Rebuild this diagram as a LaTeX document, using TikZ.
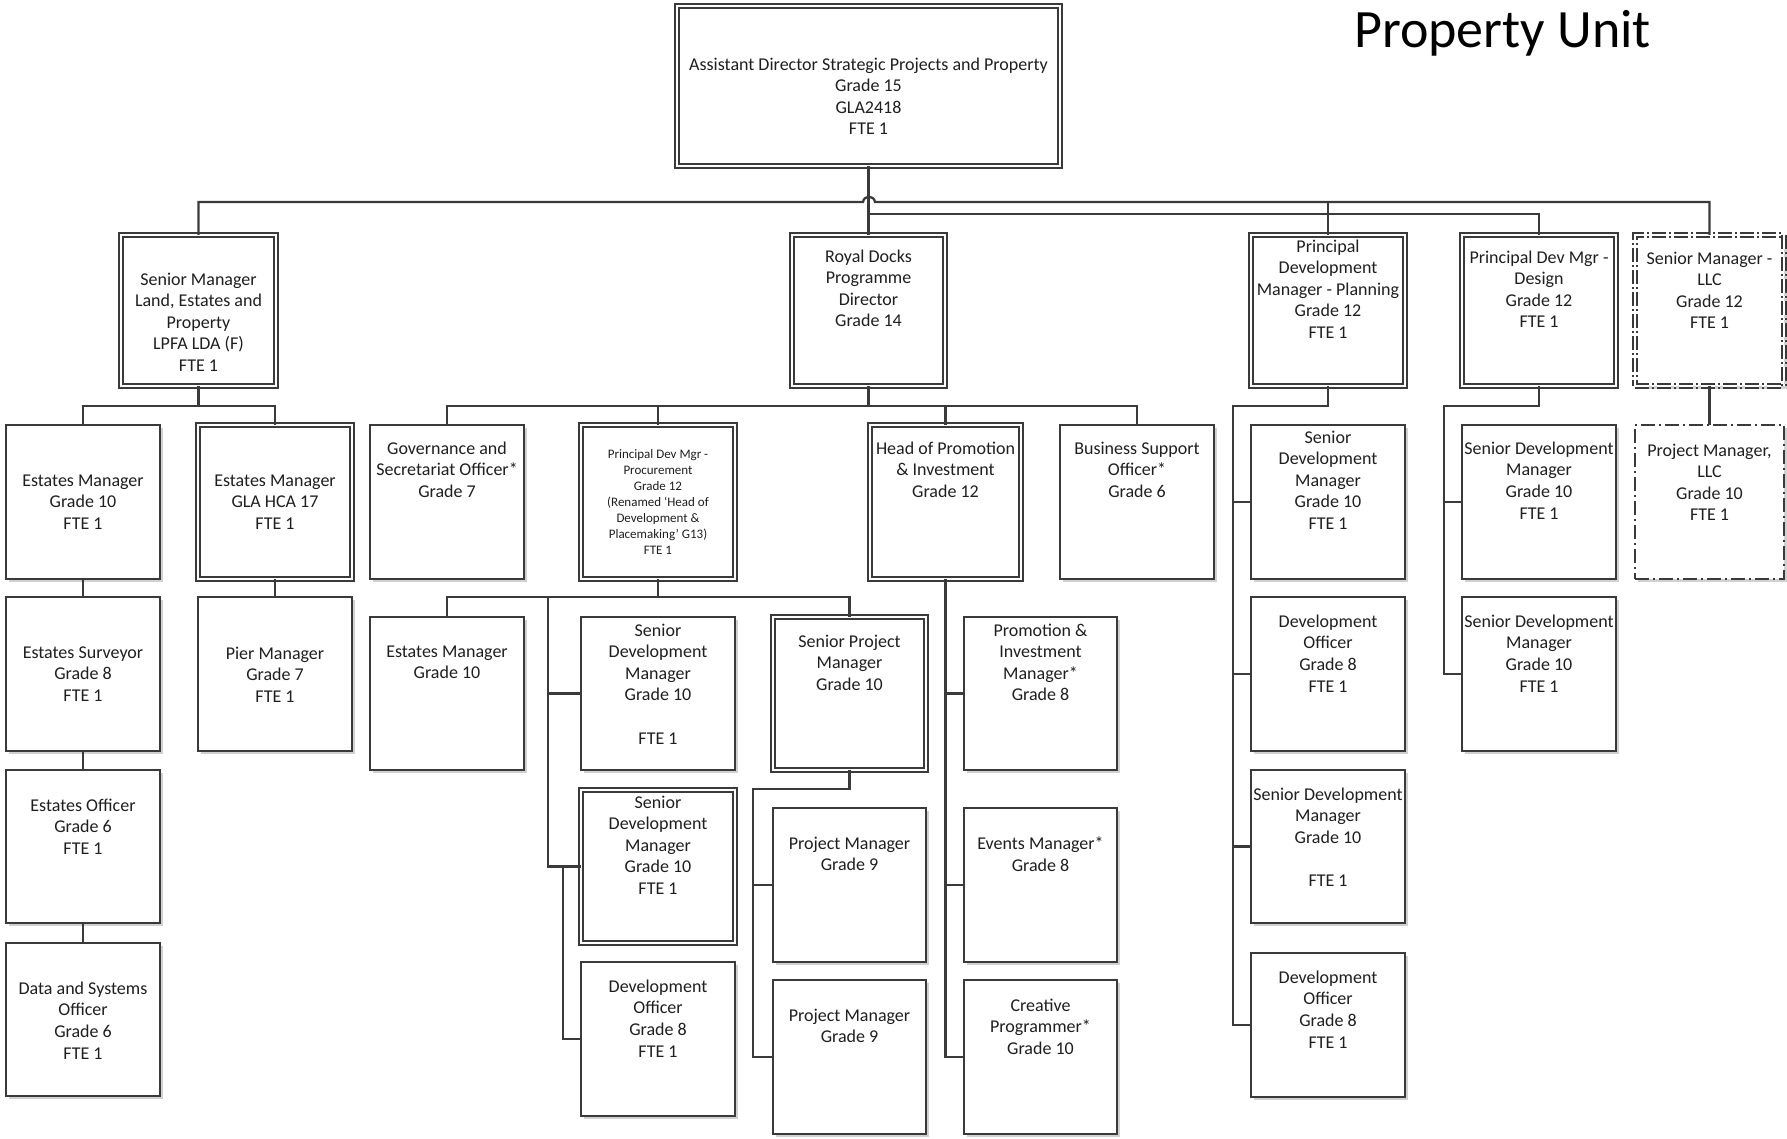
\documentclass[tikz,border=0pt]{standalone}
\usepackage{fontspec}
\setmainfont{Carlito}
\usetikzlibrary{shadows}
\definecolor{lc}{HTML}{3A3A3A}
\tikzset{
  box/.style={draw=lc, line width=1.8pt, fill=white, inner sep=0pt, outer sep=0pt,
    drop shadow={shadow xshift=2.5pt, shadow yshift=-2.5pt, fill=black!18, opacity=1}},
  dbox/.style={box, line width=1.4pt, double=white, double distance=2.6pt},
  tbox/.style={box, line width=2.1pt, double=white, double distance=2.4pt},
  ddbox/.style={dbox, dash pattern=on 14pt off 3pt on 2pt off 3pt},
  dabox/.style={box, line width=1.4pt, dash pattern=on 14pt off 4pt on 2pt off 4pt},
  conn/.style={draw=lc, line width=2.3pt},
  txt/.style={align=center, inner sep=0pt, text=black!88, font=\fontsize{18}{21.6}\selectfont,
    execute at begin node={\strut}},
  smalltxt/.style={txt, font=\fontsize{13}{16}\selectfont}
}
% style, name, x1, y1, x2, y2, first-line centre y, text
\newcommand\obox[8]{%
  \node[#1, minimum width={#5-#3}, minimum height={#6-#4}] (#2) at ({(#3+#5)/2},{(#4+#6)/2}) {};
  \node[txt, anchor=north] (#2-t) at ({(#3+#5)/2},{#7-6.5}) {#8};
}
\begin{document}
\begin{tikzpicture}[x=1pt,y=-1pt]
\useasboundingbox (0,0) rectangle (1787,1139);

\node[font=\fontsize{54}{60}\selectfont, anchor=base west, inner sep=0pt, text=black] (title) at (1354,48) {Property Unit};

% level 0 and 1
\obox{dbox}{top}{677}{6}{1060}{166}{64}{Assistant Director Strategic Projects and Property\\Grade 15\\GLA2418\\FTE 1}
\obox{tbox}{land}{121}{235}{276}{386}{279}{Senior Manager\\Land, Estates and\\Property\\LPFA LDA (F)\\FTE 1}
\obox{dbox}{rd}{792}{235}{945}{386}{256}{Royal Docks\\Programme\\Director\\Grade 14}
\obox{dbox}{plan}{1251}{235}{1405}{386}{246}{Principal\\Development\\Manager - Planning\\Grade 12\\FTE 1}
\obox{dbox}{design}{1462}{235}{1616}{386}{257}{Principal Dev Mgr -\\Design\\Grade 12\\FTE 1}
\obox{ddbox}{llc}{1635}{235}{1784}{386}{258}{Senior Manager -\\LLC\\Grade 12\\FTE 1}

% level 2
\obox{box}{em1}{6}{425}{160}{579}{481}{Estates Manager\\Grade 10\\FTE 1}
\obox{dbox}{gla}{198}{425}{352}{579}{481}{Estates Manager\\GLA HCA 17\\FTE 1}
\obox{box}{gov}{370}{425}{524}{579}{448}{Governance and\\Secretariat Officer*\\Grade 7}
\node[dbox, minimum width=154, minimum height=154] (proc) at (658,502) {};
\node[smalltxt, anchor=north] (proc-t) at (658,449.5) {Principal Dev Mgr -\\Procurement\\Grade 12\\(Renamed ‘Head of\\Development \&\\Placemaking’ G13)\\FTE 1};
\obox{dbox}{hop}{870}{425}{1021}{579}{448}{Head of Promotion\\\& Investment\\Grade 12}
\obox{box}{bso}{1060}{425}{1214}{579}{448}{Business Support\\Officer*\\Grade 6}
\obox{box}{psdm1}{1251}{425}{1405}{579}{437}{Senior\\Development\\Manager\\Grade 10\\FTE 1}
\obox{box}{dsdm1}{1462}{425}{1616}{579}{448}{Senior Development\\Manager\\Grade 10\\FTE 1}
\obox{dabox}{pmllc}{1635}{425}{1784}{579}{450}{Project Manager,\\LLC\\Grade 10\\FTE 1}

% left columns
\obox{box}{es}{6}{597}{160}{751}{653}{Estates Surveyor\\Grade 8\\FTE 1}
\obox{box}{pier}{198}{597}{352}{751}{653}{Pier Manager\\Grade 7\\FTE 1}
\obox{box}{eo}{6}{770}{160}{923}{805}{Estates Officer\\Grade 6\\FTE 1}
\obox{box}{ds}{6}{943}{160}{1096}{988}{Data and Systems\\Officer\\Grade 6\\FTE 1}

% planning / design columns
\obox{box}{pdo1}{1251}{597}{1405}{751}{621}{Development\\Officer\\Grade 8\\FTE 1}
\obox{box}{psdm3}{1251}{770}{1405}{923}{794}{Senior Development\\Manager\\Grade 10\\\mbox{}\\FTE 1}
\obox{box}{pdo2}{1251}{953}{1405}{1097}{977}{Development\\Officer\\Grade 8\\FTE 1}
\obox{box}{dsdm2}{1462}{597}{1616}{751}{621}{Senior Development\\Manager\\Grade 10\\FTE 1}

% procurement / promotion subtree
\obox{box}{em2}{370}{617}{524}{770}{652}{Estates Manager\\Grade 10}
\obox{box}{sdm1}{581}{617}{735}{770}{630}{Senior\\Development\\Manager\\Grade 10\\\mbox{}\\FTE 1}
\obox{dbox}{spm}{773}{617}{926}{770}{641}{Senior Project\\Manager\\Grade 10}
\obox{box}{pim}{964}{617}{1117}{770}{630}{Promotion \&\\Investment\\Manager*\\Grade 8}
\obox{dbox}{sdm2}{581}{790}{735}{943}{802}{Senior\\Development\\Manager\\Grade 10\\FTE 1}
\obox{box}{pm1}{773}{808}{926}{962}{843}{Project Manager\\Grade 9}
\obox{box}{ev}{964}{808}{1117}{962}{843}{Events Manager*\\Grade 8}
\obox{box}{do}{581}{962}{735}{1116}{986}{Development\\Officer\\Grade 8\\FTE 1}
\obox{box}{pm2}{773}{980}{926}{1134}{1015}{Project Manager\\Grade 9}
\obox{box}{cp}{964}{980}{1117}{1134}{1005}{Creative\\Programmer*\\Grade 10}

% junction coordinates
\coordinate (busA) at (0,202);
\coordinate (busB) at (0,214);
\coordinate (lbus) at (0,406);
\coordinate (pbus) at (0,597);
\coordinate (t1) at (548,597);
\coordinate (pj) at (563,0);
\coordinate (sj) at (753,789);
\coordinate (pl) at (1233,406);
\coordinate (dl) at (1444,406);

% connectors from the top
\draw[conn] (top.south) -- (rd.north);
\draw[conn] (land.north) |- (863,202) .. controls (864,195) and (874,195) .. (875,202) -| (llc.north);
\draw[conn] (plan.north) -- (plan.north |- busA);
\draw[conn] (rd.north |- busB) -| (design.north);

% land subtree
\draw[conn] (land.south) -- (land.south |- lbus);
\draw[conn] (em1.north) |- (gla.north |- lbus) -- (gla.north);
\draw[conn] (em1.south) -- (es.north);
\draw[conn] (es.south) -- (eo.north);
\draw[conn] (eo.south) -- (ds.north);
\draw[conn] (gla.south) -- (pier.north);

% royal docks subtree
\draw[conn] (rd.south) -- (rd.south |- lbus);
\draw[conn] (gov.north) |- (bso.north |- lbus) -- (bso.north);
\draw[conn] (proc.north) -- (proc.north |- lbus);
\draw[conn] (hop.north) -- (hop.north |- lbus);

% procurement subtree
\draw[conn] (proc.south) -- (proc.south |- pbus);
\draw[conn] (em2.north) |- (spm.north |- pbus) -- (spm.north);
\draw[conn] (t1) |- (sdm1.west);
\draw[conn] (t1) |- (sdm2.west);
\draw[conn] (pj |- sdm2.west) |- (do.west);

% senior project manager subtree
\draw[conn] (spm.south) -- (spm.south |- sj) -- (sj) |- (pm2.west);
\draw[conn] (sj) |- (pm1.west);

% promotion subtree
\draw[conn] (hop.south) |- (cp.west);
\draw[conn] (hop.south) |- (pim.west);
\draw[conn] (hop.south) |- (ev.west);

% planning subtree
\draw[conn] (plan.south) |- (pl) |- (pdo2.west);
\draw[conn] (pl) |- (psdm1.west);
\draw[conn] (pl) |- (pdo1.west);
\draw[conn] (pl) |- (psdm3.west);

% design subtree
\draw[conn] (design.south) |- (dl) |- (dsdm2.west);
\draw[conn] (dl) |- (dsdm1.west);

% LLC
\draw[conn] (llc.south) -- (pmllc.north);
\end{tikzpicture}
\end{document}
